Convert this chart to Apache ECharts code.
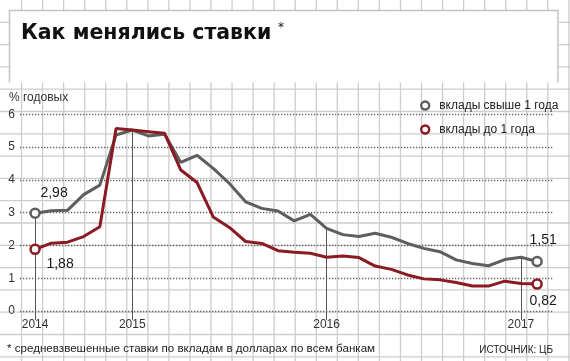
<!DOCTYPE html>
<html><head><meta charset="utf-8">
<script src="https://cdn.jsdelivr.net/npm/echarts@6.0.0/dist/echarts.min.js"></script>
<style>html,body{margin:0;padding:0;background:#fff}#c{width:570px;height:361px}</style>
</head><body><div id="c"></div>
<script>
// ---- data ----
const months = ["2014-07","2014-08","2014-09","2014-10","2014-11","2014-12",
  "2015-01","2015-02","2015-03","2015-04","2015-05","2015-06","2015-07","2015-08","2015-09","2015-10","2015-11","2015-12",
  "2016-01","2016-02","2016-03","2016-04","2016-05","2016-06","2016-07","2016-08","2016-09","2016-10","2016-11","2016-12",
  "2017-01","2017-02"];
const over1y = [2.98,3.06,3.07,3.55,3.84,5.37,5.52,5.34,5.39,4.53,4.75,4.35,3.89,3.33,3.13,3.05,2.75,2.95,
  2.52,2.33,2.27,2.37,2.25,2.06,1.91,1.81,1.56,1.45,1.38,1.57,1.64,1.51];
const upto1y = [1.88,2.07,2.10,2.27,2.57,5.57,5.52,5.47,5.42,4.30,3.92,2.87,2.55,2.12,2.06,1.84,1.79,1.76,
  1.64,1.68,1.63,1.37,1.27,1.10,0.98,0.95,0.87,0.76,0.76,0.91,0.84,0.82];
const yearTicks = ["2014-07","2015-01","2016-01","2017-01"];
const yearLabels = ["2014","2015","2016","2017"];
const seriesNames = ["вклады свыше 1 года","вклады до 1 года"];
const yTicks = [0,1,2,3,4,5,6];

// ---- helpers ----
const toM = s => { const [y,m] = s.split('-').map(Number); return (y-2014)*12 + (m-1); };
const mx = months.map(toM);
const tickM = yearTicks.map(toM);
const GREY = '#5e5e5e', RED = '#8b1a22';
const FONT = 'Liberation Sans, Arial, sans-serif';
const fmt = v => String(v.toFixed(2)).replace('.', ',');

function build(vals, color, offFirst, offLast) {
  return vals.map((v,i) => {
    const it = {value:[mx[i], v]};
    if (i === 0 || i === vals.length-1) {
      it.symbol = 'circle'; it.symbolSize = 9;
      it.itemStyle = {color:'#fff', borderColor: color, borderWidth: 2.5};
      it.label = {show:true, position:'inside', offset: i===0 ? offFirst : offLast,
        formatter: () => fmt(v), color:'#1a1a1a', fontSize:14, fontFamily: FONT};
    }
    return it;
  });
}

// background graph paper
const bg = [];
for (let k = 1; k <= 27; k++) {
  const x = 0.5 + 21.05*k;
  bg.push({type:'line', z:-20, silent:true, shape:{x1:x,y1:0,x2:x,y2:361}, style:{stroke:'#cdcdcd', lineWidth:1.3}});
}
for (let k = 1; k <= 16; k++) {
  const y = 22.3*k;
  bg.push({type:'line', z:-20, silent:true, shape:{x1:0,y1:y,x2:570,y2:y}, style:{stroke:'#cdcdcd', lineWidth:1.3}});
}
bg.push({type:'rect', z:-10, silent:true, shape:{x:9.5,y:10.5,width:548.5,height:72}, style:{fill:'#fff'}});
bg.push({type:'polyline', z:-9, silent:true, shape:{points:[[9.5,82.5],[9.5,10.5],[558,10.5],[558,82.5]]},
  style:{fill:null, stroke:'#c4c4c4', lineWidth:1.5}});
bg.push({type:'text', z:10, left:21, top:23, style:{text:'Как менялись ставки', fontSize:20.5, fontWeight:'bold',
  fontFamily:'DejaVu Sans', fill:'#111'}});
bg.push({type:'text', z:10, left:278, top:22, style:{text:'*', fontSize:12, fontFamily:'DejaVu Sans', fill:'#111'}});
bg.push({type:'text', z:10, left:9, top:92, style:{text:'% годовых', fontSize:12, fontFamily:FONT, fill:'#333'}});
bg.push({type:'text', z:10, left:7, top:343, style:{text:'* средневзвешенные ставки по вкладам в долларах по всем банкам', fontSize:11.6, fontFamily:FONT, fill:'#222'}});
bg.push({type:'text', z:10, right:17, top:345, style:{text:'ИСТОЧНИК: ЦБ', fontSize:10, fontFamily:FONT, fill:'#222'}});

const chart = echarts.init(document.getElementById('c'), null, {renderer:'canvas'});
chart.setOption({
  animation:false,
  backgroundColor:'#fff',
  graphic: bg,
  grid:{left:20, right:17, top:114.3, bottom:50, containLabel:false},
  legend:{
    orient:'vertical', left:415, top:93.5, icon:'circle', itemWidth:18, itemHeight:8, itemGap:10,
    selectedMode:false,
    textStyle:{fontSize:12, color:'#222', fontFamily:FONT, lineHeight:14},
    data:[
      {name:seriesNames[0], itemStyle:{color:'#fff', borderColor:GREY, borderWidth:2.4}},
      {name:seriesNames[1], itemStyle:{color:'#fff', borderColor:RED, borderWidth:2.4}}
    ]
  },
  xAxis:{
    type:'value', min: mx[0]-0.93, max: mx[mx.length-1]+0.98,
    axisLine:{show:false}, splitLine:{show:false},
    axisTick:{show:true, customValues: tickM, length:9, lineStyle:{color:'#555', width:1}},
    axisLabel:{customValues: tickM, margin:8, color:'#333', fontSize:12, fontFamily:FONT,
      formatter: v => yearLabels[tickM.indexOf(v)]}
  },
  yAxis:{
    type:'value', min:yTicks[0], max:yTicks[yTicks.length-1], interval:1,
    axisLine:{show:false}, axisTick:{show:false},
    axisLabel:{margin:5, color:'#333', fontSize:12, fontFamily:FONT},
    splitLine:{show:true, lineStyle:{color:'#666', width:1.3, type:[1.3,1.7]}}
  },
  series:[
    {name:seriesNames[0], type:'line', symbol:'none', silent:true, z:3,
      lineStyle:{color:GREY, width:3}, itemStyle:{color:GREY},
      emphasis:{disabled:true},
      data: build(over1y, GREY, [19,-20], [6,-21.5]),
      markLine:{silent:true, symbol:['none','none'], label:{show:false}, z:1,
        lineStyle:{color:'#555', width:1, type:'solid'},
        emphasis:{disabled:true},
        data: tickM.map(m => [{coord:[m, over1y[mx.indexOf(m)]]},{coord:[m, 0]}])}
    },
    {name:seriesNames[1], type:'line', symbol:'none', silent:true, z:4,
      lineStyle:{color:RED, width:3}, itemStyle:{color:RED},
      emphasis:{disabled:true},
      data: build(upto1y, RED, [25,15], [6,17.5])
    }
  ]
});
</script>
</body></html>
